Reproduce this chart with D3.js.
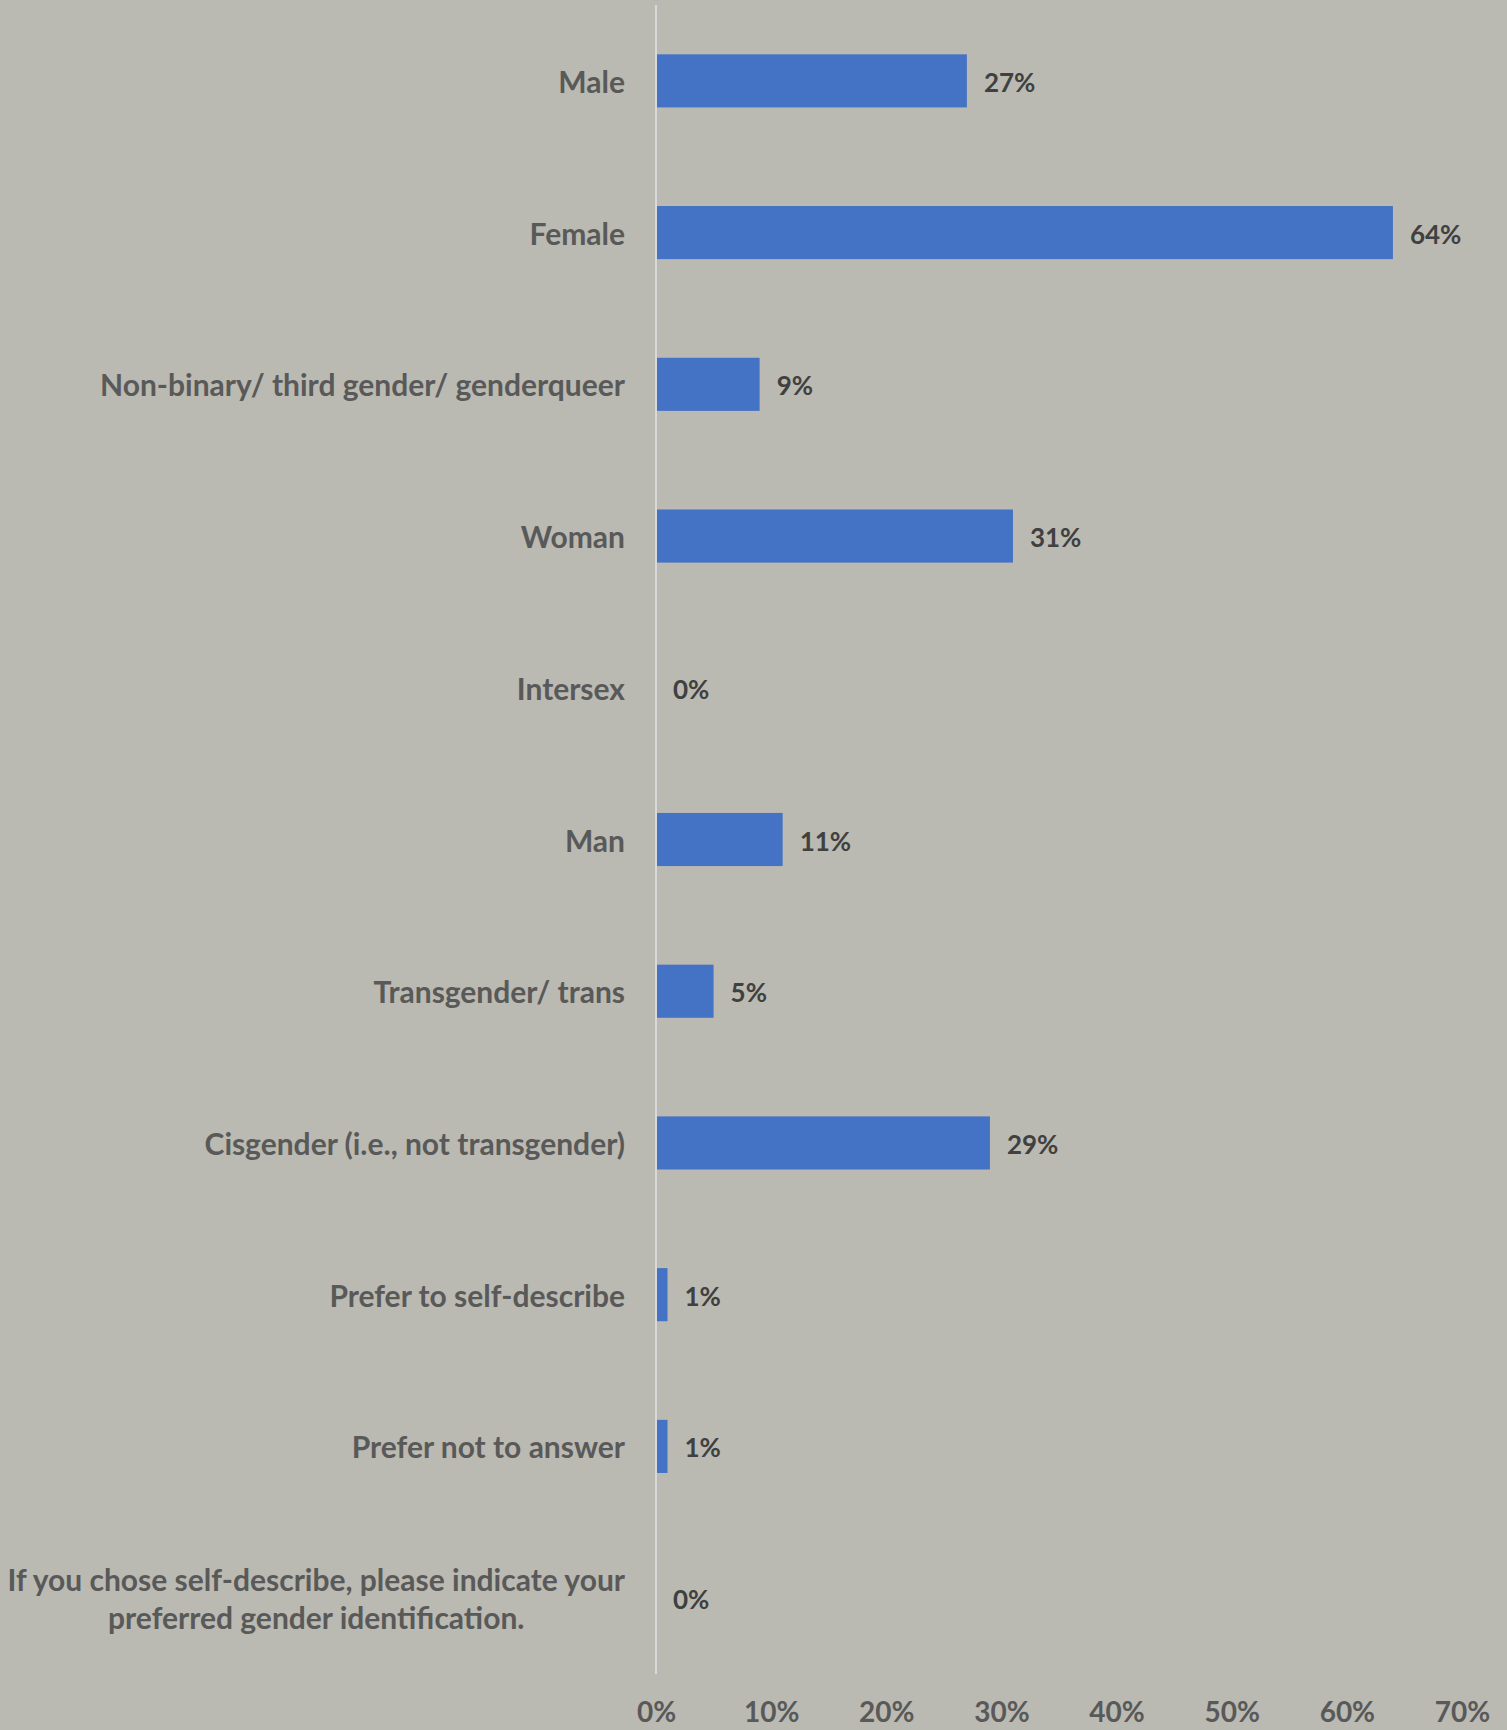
<!DOCTYPE html>
<html><head><meta charset="utf-8">
<script src="https://cdn.jsdelivr.net/npm/d3@7"></script>
<style>
html,body{margin:0;padding:0;background:#BABAB2;}
svg{display:block;}
</style></head>
<body>
<svg id="chart" width="1507" height="1730"></svg>
<script>
const categories = [
  "Male",
  "Female",
  "Non-binary/ third gender/ genderqueer",
  "Woman",
  "Intersex",
  "Man",
  "Transgender/ trans",
  "Cisgender (i.e., not transgender)",
  "Prefer to self-describe",
  "Prefer not to answer",
  "If you chose self-describe, please indicate your\npreferred gender identification."
];
const values = [27, 64, 9, 31, 0, 11, 5, 29, 1, 1, 0];
const tickValues = [0, 10, 20, 30, 40, 50, 60, 70];

(function () {
const W = 1507, H = 1730;
const pLeft = 656, pRight = 1462, pTop = 5, pBottom = 1674;
const font = "Lato, 'Open Sans', sans-serif";
const catSize = 30;

const svg = d3.select("#chart");
svg.append("rect").attr("width", W).attr("height", H).attr("fill", "#BABAB2");

const x = d3.scaleLinear().domain([0, 70]).range([pLeft, pRight]);
const y = d3.scaleBand().domain(categories).range([pTop, pBottom])
  .paddingInner(0.65).paddingOuter(0.325);

// bars
svg.append("g").selectAll("rect").data(values).join("rect")
  .attr("x", x(0))
  .attr("y", (d, i) => y(categories[i]))
  .attr("width", d => x(d) - x(0))
  .attr("height", y.bandwidth())
  .attr("fill", "#4472C4");

// axis line
svg.append("line")
  .attr("x1", x(0)).attr("x2", x(0))
  .attr("y1", pTop).attr("y2", pBottom)
  .attr("stroke", "#D9D9D9").attr("stroke-width", 2);

// category labels
const cat = svg.append("g");
categories.forEach((c, i) => {
  const lines = c.split("\n");
  const cy = y(c) + y.bandwidth() / 2;
  const lh = 38.6;
  const t = cat.append("text")
    .attr("font-family", font).attr("font-weight", 700)
    .attr("font-size", catSize).attr("fill", "#595959")
    .attr("dominant-baseline", "central");
  if (lines.length === 1) {
    t.attr("x", 625).attr("y", cy).attr("text-anchor", "end").text(c);
  } else {
    const tmp = cat.append("text").attr("font-family", font).attr("font-weight", 700)
      .attr("font-size", catSize).text(lines[0]);
    const w = tmp.node().getComputedTextLength();
    tmp.remove();
    const cx = 625 - w / 2;
    t.attr("text-anchor", "middle");
    lines.forEach((ln, j) => {
      t.append("tspan").attr("x", cx)
        .attr("y", cy + (j - (lines.length - 1) / 2) * lh)
        .text(ln);
    });
  }
});

// value labels
svg.append("g").selectAll("text").data(values).join("text")
  .attr("x", d => x(d) + 17)
  .attr("y", (d, i) => y(categories[i]) + y.bandwidth() / 2 + 1)
  .attr("dominant-baseline", "central")
  .attr("font-family", font).attr("font-weight", 700)
  .attr("font-size", 26).attr("fill", "#404040")
  .text(d => d + "%");

// x axis
const xAxis = d3.axisBottom(x).tickValues(tickValues).tickSize(0).tickPadding(0)
  .tickFormat(d => d + "%");
const gx = svg.append("g").attr("transform", "translate(0,1711)").call(xAxis);
gx.select(".domain").remove();
gx.selectAll("text")
  .attr("dy", null).attr("y", 0)
  .attr("dominant-baseline", "central")
  .attr("font-family", font).attr("font-weight", 700)
  .attr("font-size", 28).attr("fill", "#595959");
})();
</script>
</body></html>
